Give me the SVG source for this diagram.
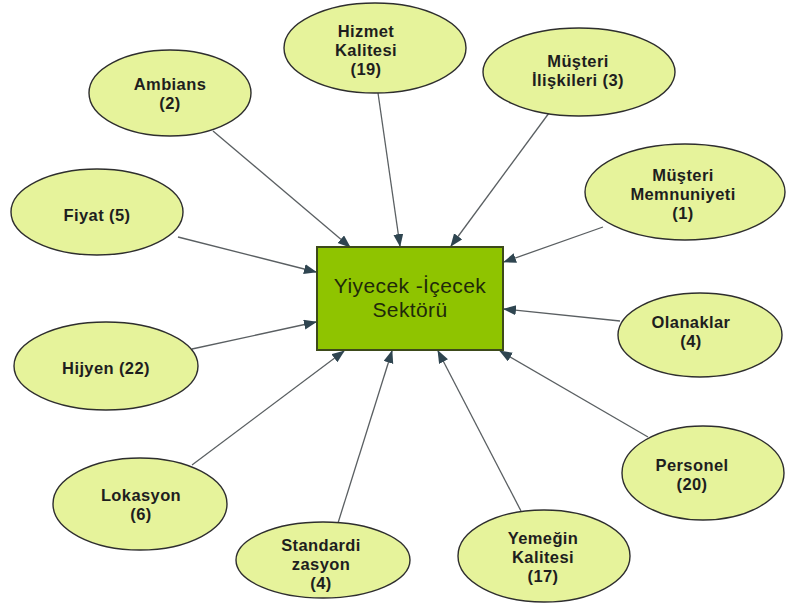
<svg xmlns="http://www.w3.org/2000/svg" width="787" height="612" viewBox="0 0 787 612">
<defs>
<style>
.n ellipse{fill:#e6f39b;stroke:#2e2e2e;stroke-width:1.4}
.n text{font-family:"Liberation Sans",Arial,sans-serif;font-weight:bold;font-size:16.5px;letter-spacing:0.4px;fill:#1e1e1e;text-anchor:middle}
.c text{font-family:"Liberation Sans",Arial,sans-serif;font-size:21px;letter-spacing:0.4px;fill:#1f2a0a;text-anchor:middle}
.e line{stroke:#5a5f62;stroke-width:1.3;marker-end:url(#ah)}
</style>
<marker id="ah" markerWidth="13" markerHeight="11" refX="12" refY="5" orient="auto" markerUnits="userSpaceOnUse">
<path d="M0,0 L13,5 L0,10 Z" fill="#2f4550"/>
</marker>
</defs>
<rect width="787" height="612" fill="#ffffff"/>
<g id="connectors" class="e">
<line x1="213" y1="131" x2="350" y2="247"/>
<line x1="378" y1="93" x2="400" y2="246"/>
<line x1="549" y1="113" x2="451" y2="246"/>
<line x1="603" y1="227" x2="504" y2="262"/>
<line x1="178" y1="237" x2="316" y2="272"/>
<line x1="192" y1="349" x2="316" y2="322"/>
<line x1="192" y1="465" x2="344" y2="351"/>
<line x1="338" y1="523" x2="392" y2="351"/>
<line x1="521" y1="511" x2="438" y2="351"/>
<line x1="648" y1="437" x2="500" y2="351"/>
<line x1="620" y1="321" x2="504" y2="309"/>
</g>
<g id="center" class="c">
<rect x="317" y="247" width="186" height="103" fill="#8fc400" stroke="#3d4a1a" stroke-width="2"/>
<text x="410" y="293">Yiyecek -İçecek</text>
<text x="410" y="317">Sektörü</text>
</g>
<g id="ambians" class="n">
<ellipse cx="170" cy="93" rx="81" ry="43"/>
<text x="170" y="90">Ambians</text>
<text x="170" y="109">(2)</text>
</g>
<g id="hizmet" class="n">
<ellipse cx="375" cy="48" rx="91" ry="45"/>
<text x="366" y="37">Hizmet</text>
<text x="366" y="56">Kalitesi</text>
<text x="366" y="75">(19)</text>
</g>
<g id="musteri-iliskileri" class="n">
<ellipse cx="579" cy="72" rx="96" ry="44"/>
<text x="578" y="67">Müşteri</text>
<text x="578" y="86">İlişkileri (3)</text>
</g>
<g id="musteri-memnuniyeti" class="n">
<ellipse cx="685" cy="192" rx="100" ry="48"/>
<text x="683" y="181">Müşteri</text>
<text x="683" y="200">Memnuniyeti</text>
<text x="683" y="219">(1)</text>
</g>
<g id="fiyat" class="n">
<ellipse cx="97" cy="212" rx="86" ry="43"/>
<text x="97" y="221">Fiyat (5)</text>
</g>
<g id="hijyen" class="n">
<ellipse cx="106" cy="366" rx="92" ry="44"/>
<text x="106" y="374">Hijyen (22)</text>
</g>
<g id="olanaklar" class="n">
<ellipse cx="700" cy="335" rx="82" ry="42"/>
<text x="691" y="328">Olanaklar</text>
<text x="691" y="347">(4)</text>
</g>
<g id="personel" class="n">
<ellipse cx="703" cy="473" rx="81" ry="47"/>
<text x="692" y="471">Personel</text>
<text x="692" y="490">(20)</text>
</g>
<g id="lokasyon" class="n">
<ellipse cx="140" cy="504" rx="87" ry="46"/>
<text x="141" y="501">Lokasyon</text>
<text x="141" y="520">(6)</text>
</g>
<g id="standardizasyon" class="n">
<ellipse cx="323" cy="560" rx="87" ry="38"/>
<text x="321" y="551">Standardi</text>
<text x="321" y="570">zasyon</text>
<text x="321" y="589">(4)</text>
</g>
<g id="yemegin" class="n">
<ellipse cx="544" cy="556" rx="86" ry="46"/>
<text x="543" y="544">Yemeğin</text>
<text x="543" y="563">Kalitesi</text>
<text x="543" y="582">(17)</text>
</g>
</svg>
